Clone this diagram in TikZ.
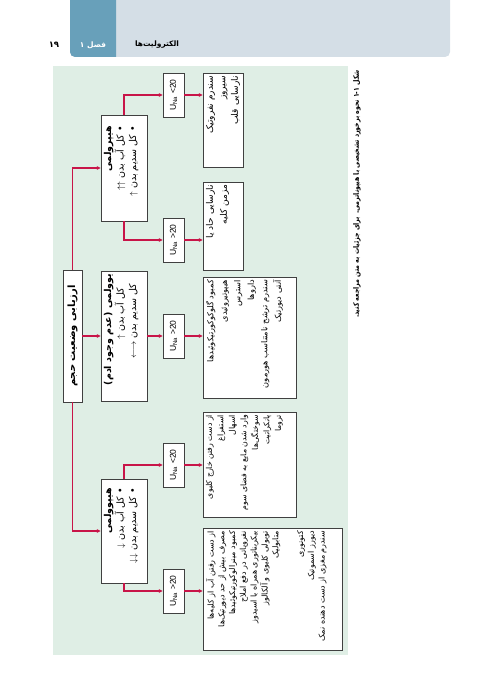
\documentclass[tikz,border=0pt]{standalone}
\usepackage{fontspec}
\usepackage{graphicx}
\setmainfont{Liberation Sans}
\newfontfamily\fafont[Script=Arabic]{DejaVu Sans}
\TeXXeTstate=1
\usetikzlibrary{arrows.meta, shadows}

\definecolor{hdrband}{RGB}{212,222,230}
\definecolor{hdrtab}{RGB}{104,160,186}
\definecolor{panelgreen}{RGB}{223,238,229}
\definecolor{linkred}{RGB}{200,20,72}

% one right-to-left line
\newcommand{\fa}[1]{\mbox{\beginR #1\endR}}
% text turned a quarter left, in a box of given depth and length
\newcommand{\rottext}[4][t]{\rotatebox{90}{\parbox[c][#2][#1]{#3}{\fafont #4}}}

\begin{document}
\begin{tikzpicture}[
  x=1pt, y=-1pt,
  font=\fontsize{9}{11}\selectfont,
  box/.style ={draw=black!75, line width=0.5pt, fill=white, inner sep=3pt,
               drop shadow={shadow xshift=1.4pt, shadow yshift=-1.4pt, fill=black!40, opacity=1}},
  una/.style ={box, inner sep=0pt, minimum width=21pt, minimum height=44pt, font=\fontsize{8.5}{10}\selectfont},
  flow/.style={-{Triangle[length=4pt, width=3.6pt]}, line width=1.2pt, draw=linkred},
]
\useasboundingbox (0,0) rectangle (500,700);

% ---------- page head ----------
\begin{scope}
  \clip (0,0) rectangle (500,700);
  \fill[hdrband, rounded corners=5pt] (70,-10) rectangle (450,57);
  \clip (0,0) rectangle (116,700);
  \fill[hdrtab, rounded corners=5pt] (70,-10) rectangle (130,57);
\end{scope}
\node[text=white, font=\fafont\bfseries\fontsize{7.5}{9}\selectfont] (chap) at (93,45) {\fa{فصل ۱}};
\node[font=\fafont\bfseries\fontsize{7.5}{9}\selectfont] (head) at (157,45) {\fa{الکترولیت‌ها}};
\node[font=\fafont\bfseries\fontsize{8.5}{9}\selectfont] (pageno) at (54,45) {\fa{۱۹}};

% ---------- panel + caption ----------
\fill[panelgreen] (53,66) rectangle (348,655);
\node[anchor=north, inner sep=0pt] (caption) at (357,70)
  {\rotatebox{90}{\scalebox{0.83}[1]{\fafont\bfseries\fontsize{7.5}{9}\selectfont\fa{شکل ۱-۱ نحوه برخورد تشخیصی با هیپوناترمی. برای جزئیات به متن مراجعه کنید.}}}};

% ---------- root ----------
\node[box] (root) at (72.5,336) {\rottext[c]{13pt}{126pt}{\centering\bfseries\fontsize{10}{11}\selectfont\fa{ارزیابی وضعیت حجم}}};

% ---------- volume states ----------
\node[box] (hyper) at (124,168) {\rottext{40pt}{100pt}{\raggedleft\rightskip=8pt\fontsize{9.5}{12.5}\selectfont
  \fa{\bfseries هیپرولمی}\\ \fa{• کل آب بدن $\uparrow\uparrow$}\\ \fa{• کل سدیم بدن $\uparrow$}}};
\node[box] (euvo) at (124,336) {\rottext{40pt}{124pt}{\raggedleft\fontsize{9.5}{12.5}\selectfont
  \fa{\bfseries یوولمی (عدم وجود ادم)}\\ \fa{\hspace{14pt}کل آب بدن $\uparrow$}\\ \fa{\hspace{10pt}کل سدیم بدن $\longleftrightarrow$}}};
\node[box] (hypo) at (124,531) {\rottext{40pt}{98pt}{\raggedleft\rightskip=6pt\fontsize{9.5}{12.5}\selectfont
  \fa{\bfseries هیپوولمی}\\ \fa{• کل آب بدن $\downarrow$}\\ \fa{• کل سدیم بدن $\downarrow\downarrow$}}};

% ---------- urine sodium ----------
\node[una] (uHa) at (173.5,95)  {\rotatebox{90}{U\textsubscript{Na} <20}};
\node[una] (uHb) at (173.5,240) {\rotatebox{90}{U\textsubscript{Na} >20}};
\node[una] (uE)  at (173.5,336) {\rotatebox{90}{U\textsubscript{Na} >20}};
\node[una] (uOa) at (173.5,465) {\rotatebox{90}{U\textsubscript{Na} <20}};
\node[una] (uOb) at (173.5,591) {\rotatebox{90}{U\textsubscript{Na} >20}};

% ---------- causes ----------
\node[box] (resHa) at (223,120) {\rottext{34pt}{88pt}{\raggedleft\fontsize{9}{12.5}\selectfont
  \fa{سندرم نفروتیک}\\ \fa{سیروز}\\ \fa{نارسایی قلب}}};
\node[box] (resHb) at (223,226) {\rottext{34pt}{82pt}{\raggedleft\fontsize{9}{14}\selectfont
  \fa{نارسایی حاد یا}\\ \fa{مزمن کلیه}}};
\node[box] (resE) at (249.5,337.5) {\rottext{87pt}{115pt}{\raggedleft\fontsize{8.2}{13.5}\selectfont
  \fa{کمبود گلوکوکورتیکوئیدها}\\ \fa{هیپوتیروئیدی}\\ \fa{استرس}\\ \fa{داروها}\\
  \fa{سندرم ترشح نامتناسب هورمون}\\ \fa{آنتی دیورتیک}}};
\node[box] (resOa) at (249.5,464.5) {\rottext{87pt}{99pt}{\raggedleft\fontsize{7.8}{11.5}\selectfont
  \fa{از دست رفتن خارج کلیوی}\\ \fa{استفراغ}\\ \fa{اسهال}\\ \fa{وارد شدن مایع به فضای سوم}\\
  \fa{سوختگی‌ها}\\ \fa{پانکراتیت}\\ \fa{تروما}}};
\node[box] (resOb) at (272.5,589) {\rottext{133pt}{116pt}{\raggedleft\fontsize{8}{10.8}\selectfont
  \fa{از دست رفتن آب از کلیه‌ها}\\ \fa{مصرف بیش از حد دیورتیک‌ها}\\ \fa{کمبود مینرالوکورتیکوئیدها}\\
  \fa{نفروپاتی در دفع املاح}\\ \fa{بیکربناتوری همراه با اسیدوز}\\ \fa{توبولی کلیوی و آلکالوز}\\
  \fa{متابولیک}\\[14pt] \fa{کتونوری}\\ \fa{دیورز اسموتیک}\\ \fa{سندرم مغزی از دست دهنده نمک}}};

% ---------- flows ----------
\draw[flow] (root.north) |- (hyper.west);
\draw[flow] (root.east) -- (root.east -| euvo.west);
\draw[flow] (root.south) |- (hypo.west);
\draw[flow] (hyper.north) |- (uHa.west);
\draw[flow] (hyper.south) |- (uHb.west);
\draw[flow] (uE.west -| euvo.east) -- (uE.west);
\draw[flow] (hypo.north) |- (uOa.west);
\draw[flow] (hypo.south) |- (uOb.west);
\draw[flow] (uHa.east) -- (uHa.east -| resHa.west);
\draw[flow] (uHb.east) -- (uHb.east -| resHb.west);
\draw[flow] (uE.east)  -- (uE.east -| resE.west);
\draw[flow] (uOa.east) -- (uOa.east -| resOa.west);
\draw[flow] (uOb.east) -- (uOb.east -| resOb.west);

\end{tikzpicture}
\end{document}
